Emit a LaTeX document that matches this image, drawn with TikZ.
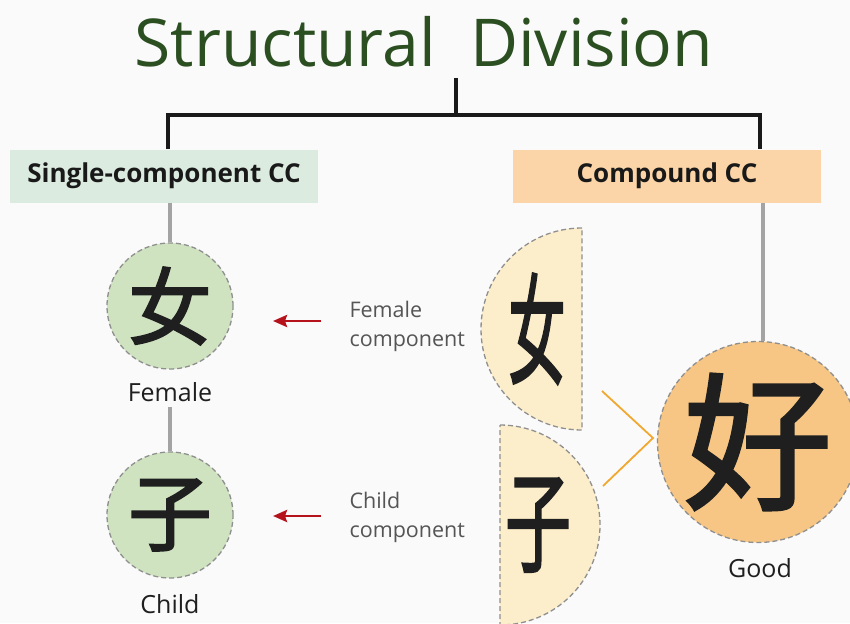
\documentclass[tikz,border=0pt]{standalone}
\usepackage{fontspec}
\setmainfont{Open Sans}
\newfontfamily\cjk[FakeBold=2]{Noto Sans CJK SC}
\usetikzlibrary{arrows.meta}

\definecolor{titlegreen}{HTML}{2C4F22}
\definecolor{boxgreen}{HTML}{DCEBE0}
\definecolor{boxorange}{HTML}{FBD5A8}
\definecolor{circgreen}{HTML}{CFE3C0}
\definecolor{halfcream}{HTML}{FDEECB}
\definecolor{bigorange}{HTML}{F7C684}
\definecolor{arrowred}{HTML}{B5121B}
\definecolor{chevron}{HTML}{F0A830}
\definecolor{stemgray}{HTML}{A3A3A3}
\definecolor{dashgray}{HTML}{8F8F8F}
\definecolor{labelgray}{HTML}{555555}

\tikzset{
  treeline/.style={line width=3.5pt, draw=black!90},
  stemline/.style={line width=3.5pt, draw=stemgray},
  catbox/.style={minimum width=308pt, minimum height=53pt, inner sep=0pt,
    font=\fontsize{26}{28}\selectfont\bfseries, text=black!90},
  dashring/.style={draw=dashgray, line width=1.3pt, dash pattern=on 5pt off 3pt},
  charcircle/.style={circle, dashring, fill=circgreen, minimum size=126pt, inner sep=0pt,
    font=\cjk\fontsize{84}{84}\selectfont, text=black!88},
  meaning/.style={font=\fontsize{25}{28}\selectfont, text=black!88},
  complabel/.style={align=left, anchor=west, font=\fontsize{21.5}{29}\selectfont, text=labelgray},
  pointer/.style={line width=2.8pt, draw=arrowred, -{Stealth[length=14pt,width=12pt,inset=2pt]}},
  halfchar/.style={font=\cjk\fontsize{120}{120}\selectfont, text=black!88},
}

\begin{document}
\begin{tikzpicture}[x=1pt, y=-1pt]
\useasboundingbox (0,0) rectangle (850,623);
\fill[white!98!black] (0,0) rectangle (850,623);

% title and tree
\node[font=\fontsize{66}{70}\selectfont, text=titlegreen] (title) at (424,42) {Structural\ \ Division};
\coordinate (root) at (456,78);
\coordinate (joint) at (456,115);

\node[catbox, fill=boxgreen] (single) at (164,176) {Single-component CC};
\node[catbox, fill=boxorange] (compound) at (667,176) {Compound CC};

\draw[treeline] (root) -- (joint);
\draw[treeline] (single.north -| 168,0) |- (joint) -| (compound.north -| 760,0);

% single-component side
\node[charcircle] (nv) at (170,306) {\raisebox{-3pt}{女}};
\node[meaning] (female) at (170,392) {Female};
\node[charcircle] (zi) at (170,515) {\raisebox{-3pt}{子}};
\node[meaning] (child) at (170,604) {Child};

\draw[stemline] (single.south -| nv.north) -- (nv.north);
\draw[stemline] (female.south -| zi.north) ++(0,2) -- (zi.north);

% component labels with pointers
\node[complabel] (fcomp) at (346,326) {Female\\component};
\node[complabel] (ccomp) at (346,517) {Child\\component};
\coordinate (fa) at (273,321);
\coordinate (ca) at (273,516);
\draw[pointer] (fcomp.west |- fa) ++(-25,0) -- (fa);
\draw[pointer] (ccomp.west |- ca) ++(-25,0) -- (ca);

% compound side: the two halves (flat side right, then flat side left)
\fill[halfcream] (582,228) arc[start angle=270, end angle=90, radius=101] -- cycle;
\draw[dashring] (582,228) arc[start angle=270, end angle=90, radius=101] -- cycle;
\fill[halfcream] (500,425) arc[start angle=270, end angle=450, radius=100] -- cycle;
\draw[dashring] (500,425) arc[start angle=270, end angle=450, radius=100] -- cycle;
\node[halfchar] (hnv) at (537,329) {\scalebox{0.48}[1]{女}};
\node[halfchar] (hzi) at (538,525) {\scalebox{0.6}[1]{\fontsize{110}{110}\selectfont 子}};

% merge chevron
\coordinate (chA) at (602,391);
\coordinate (chT) at (653,438);
\coordinate (chB) at (603,486);
\draw[draw=chevron, line width=1.8pt] (chA) -- (chT) -- (chB);

% result character
\node[circle, dashring, fill=bigorange, minimum size=201pt, inner sep=0pt,
  font=\cjk\fontsize{148}{148}\selectfont, text=black!88] (hao) at (758,442) {\raisebox{-5pt}{好}};
\node[meaning] (good) at (760,568) {Good};
\draw[stemline] (compound.south -| 763,0) -- (hao.north -| 763,0);
\end{tikzpicture}
\end{document}
